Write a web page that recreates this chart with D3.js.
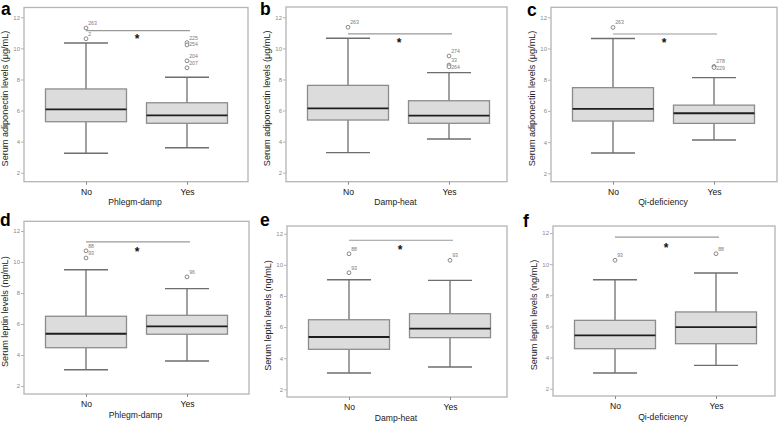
<!DOCTYPE html>
<html><head><meta charset="utf-8">
<script src="https://cdn.jsdelivr.net/npm/d3@7"></script>
<style>html,body{margin:0;padding:0;background:#fff;} svg{display:block;font-family:"Liberation Sans",Arial,sans-serif;}</style>
</head><body>
<svg id="chart" width="778" height="424"></svg>
<script>
// ---------------- DATA ----------------
const panelLetters = ["a", "b", "c", "d", "e", "f"];
const groups = ["No", "Yes"];
const factors = ["Phlegm-damp", "Damp-heat", "Qi-deficiency", "Phlegm-damp", "Damp-heat", "Qi-deficiency"];
const yTitles = [
  "Serum adiponectin levels (μg/mL)", "Serum adiponectin levels (μg/mL)", "Serum adiponectin levels (μg/mL)",
  "Serum leptin levels (ng/mL)", "Serum leptin levels (ng/mL)", "Serum leptin levels (ng/mL)"
];
const yTicks = [2, 4, 6, 8, 10, 12];
// [lower whisker, Q1, median, Q3, upper whisker]
const noStats = [
  [3.25, 5.28, 6.08, 7.39, 10.35],
  [3.29, 5.39, 6.14, 7.62, 10.65],
  [3.30, 5.35, 6.13, 7.49, 10.64],
  [3.05, 4.47, 5.37, 6.50, 9.50],
  [3.05, 4.57, 5.36, 6.47, 9.04],
  [3.01, 4.57, 5.43, 6.39, 9.00]
];
const yesStats = [
  [3.61, 5.18, 5.69, 6.50, 8.14],
  [4.17, 5.18, 5.67, 6.63, 8.44],
  [4.13, 5.20, 5.85, 6.37, 8.13],
  [3.61, 5.34, 5.85, 6.56, 8.28],
  [3.43, 5.32, 5.90, 6.86, 9.00],
  [3.50, 4.89, 5.96, 6.93, 9.43]
];
// outliers: [group, value, case id]
const outliers = [
  [["No", 11.31, "263"], ["No", 10.62, "2"], ["Yes", 10.37, "225"], ["Yes", 10.22, "254"], ["Yes", 9.20, "204"], ["Yes", 8.75, "207"]],
  [["No", 11.36, "263"], ["Yes", 9.51, "274"], ["Yes", 8.93, "33"], ["Yes", 8.82, "264"]],
  [["No", 11.35, "263"], ["Yes", 8.85, "278"], ["Yes", 8.78, "229"]],
  [["No", 10.72, "88"], ["No", 10.26, "93"], ["Yes", 9.04, "96"]],
  [["No", 10.71, "88"], ["No", 9.49, "93"], ["Yes", 10.29, "93"]],
  [["No", 10.25, "93"], ["Yes", 10.67, "88"]]
];
const sigLine = [11.14, 10.93, 10.93, 11.30, 11.58, 11.74];
const sigStar = [10.75, 10.54, 10.54, 10.80, 11.15, 11.21];

// ---------------- LAYOUT ----------------
const frames = [
  {L: 24,  R: 248, T: 7.5,   B: 181.7, y12: 17.3,  y2: 172.7},
  {L: 286, R: 507, T: 7.0,   B: 181.7, y12: 17.3,  y2: 172.7},
  {L: 551, R: 777, T: 7.3,   B: 181.7, y12: 17.3,  y2: 173.3},
  {L: 24,  R: 249, T: 221.3, B: 394,   y12: 231,   y2: 386},
  {L: 287, R: 507, T: 226,   B: 397,   y12: 233.7, y2: 389.3},
  {L: 553, R: 775, T: 226,   B: 396,   y12: 233,   y2: 388.7}
];
const letterPos = [[1, 15], [260, 15], [527, 16], [0, 225.5], [260, 225.5], [523, 226.5]];

const svg = d3.select("#chart");
svg.append("rect").attr("width", 778).attr("height", 424).attr("fill", "#fff");

const boxW = 81, capW = 44;

frames.forEach((f, i) => {
  const g = svg.append("g");
  const y = d3.scaleLinear().domain([2, 12]).range([f.y2, f.y12]);
  const x = d3.scalePoint().domain(groups).range([f.L + 62, f.L + 163]);

  // frame
  g.append("rect").attr("x", f.L).attr("y", f.T).attr("width", f.R - f.L).attr("height", f.B - f.T)
    .attr("fill", "none").attr("stroke", "#b4b4b4").attr("stroke-width", 1.3);

  // y axis
  const yAxis = d3.axisLeft(y).tickValues(yTicks).tickSize(3).tickPadding(1).tickFormat(d3.format("d"));
  const ya = g.append("g").attr("transform", `translate(${f.L},0)`).call(yAxis);
  ya.select(".domain").remove();
  ya.selectAll("line").attr("stroke", "#b4b4b4");
  ya.selectAll("text").attr("font-size", 6).attr("fill", "#8a8a8a").attr("font-family", '"Liberation Sans",Arial,sans-serif');

  // x axis
  const xAxis = d3.axisBottom(x).tickSize(3).tickPadding(4);
  const xa = g.append("g").attr("transform", `translate(0,${f.B})`).call(xAxis);
  xa.select(".domain").remove();
  xa.selectAll("line").attr("stroke", "#8a8a8a");
  xa.selectAll("text").attr("font-size", 8.6).attr("fill", "#111").attr("font-family", '"Liberation Sans",Arial,sans-serif');

  // titles
  g.append("text").attr("x", (f.L + f.R) / 2 - 1).attr("y", f.B + 23.5).attr("text-anchor", "middle")
    .attr("font-size", 8.6).attr("fill", "#222").text(factors[i]);
  const cy = (f.T + f.B) / 2 + 4;
  g.append("text").attr("transform", `translate(${f.L - 15.8},${cy}) rotate(-90)`).attr("text-anchor", "middle")
    .attr("font-size", 9.1).attr("fill", "#222").text(yTitles[i]);
  g.append("text").attr("x", letterPos[i][0]).attr("y", letterPos[i][1]).attr("font-size", 17.5)
    .attr("font-weight", "bold").attr("fill", "#000").text(panelLetters[i]);

  // boxes
  [noStats[i], yesStats[i]].forEach((s, k) => {
    const cx = x(groups[k]);
    const bg = g.append("g");
    bg.append("line").attr("x1", cx).attr("x2", cx).attr("y1", y(s[3])).attr("y2", y(s[4]))
      .attr("stroke", "#6e6e6e").attr("stroke-width", 1.3);
    bg.append("line").attr("x1", cx).attr("x2", cx).attr("y1", y(s[1])).attr("y2", y(s[0]))
      .attr("stroke", "#6e6e6e").attr("stroke-width", 1.3);
    [s[0], s[4]].forEach(v => {
      bg.append("line").attr("x1", cx - capW / 2).attr("x2", cx + capW / 2).attr("y1", y(v)).attr("y2", y(v))
        .attr("stroke", "#6e6e6e").attr("stroke-width", 1.4);
    });
    bg.append("rect").attr("x", cx - boxW / 2).attr("width", boxW).attr("y", y(s[3])).attr("height", y(s[1]) - y(s[3]))
      .attr("fill", "#dcdcdc").attr("stroke", "#8c8c8c").attr("stroke-width", 1.3);
    bg.append("line").attr("x1", cx - boxW / 2).attr("x2", cx + boxW / 2).attr("y1", y(s[2])).attr("y2", y(s[2]))
      .attr("stroke", "#1e1e1e").attr("stroke-width", 1.8);
  });

  // outliers
  groups.forEach(gr => {
    const pts = outliers[i].filter(o => o[0] === gr).sort((a, b) => b[1] - a[1]);
    let lastLy = -1e9;
    pts.forEach(o => {
      const cx = x(gr), py = y(o[1]);
      g.append("circle").attr("cx", cx).attr("cy", py).attr("r", 1.9)
        .attr("fill", "#fff").attr("stroke", "#7a7a7a").attr("stroke-width", 0.9);
      let ly = py - 3;
      if (ly < lastLy + 6.5) ly = lastLy + 6.5;
      lastLy = ly;
      g.append("text").attr("x", cx + 2.2).attr("y", ly).attr("font-size", 5.2).attr("fill", "#7a7a7a").text(o[2]);
    });
  });

  // significance
  g.append("line").attr("x1", x("No")).attr("x2", x("Yes") + 3).attr("y1", y(sigLine[i])).attr("y2", y(sigLine[i]))
    .attr("stroke", "#9a9a9a").attr("stroke-width", 1.2);
  g.append("text").attr("x", (x("No") + x("Yes")) / 2 + 0.5).attr("y", y(sigStar[i]) + 6.6)
    .attr("text-anchor", "middle").attr("font-size", 12).attr("font-weight", "bold").attr("fill", "#111").text("*");
});
</script>
</body></html>
